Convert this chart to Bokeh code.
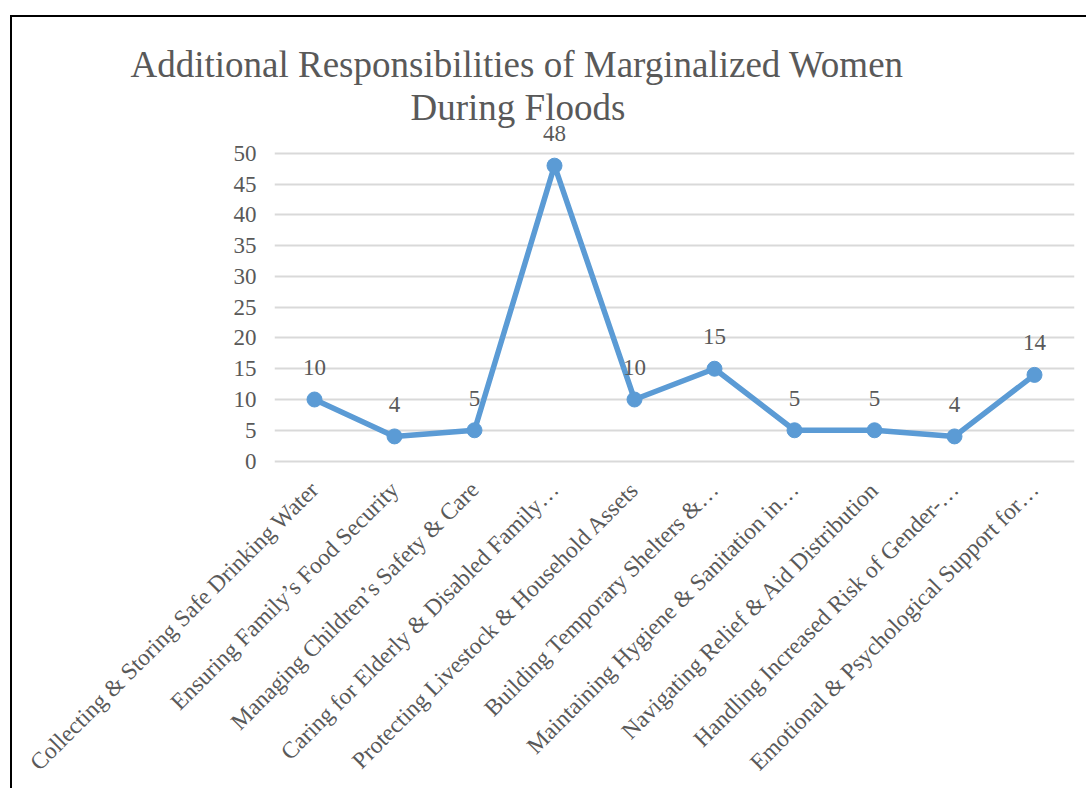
import math
from bokeh.plotting import figure
from bokeh.models import Range1d, FixedTicker, ColumnDataSource, LabelSet, Title
from bokeh.embed import file_html
from bokeh.resources import INLINE

categories = [
    "Collecting & Storing Safe Drinking Water",
    "Ensuring Family\u2019s Food Security",
    "Managing Children\u2019s Safety & Care",
    "Caring for Elderly & Disabled Family\u2026",
    "Protecting Livestock & Household Assets",
    "Building Temporary Shelters &\u2026",
    "Maintaining Hygiene & Sanitation in\u2026",
    "Navigating Relief & Aid Distribution",
    "Handling Increased Risk of Gender-\u2026",
    "Emotional & Psychological Support for\u2026",
]
values = [10, 4, 5, 48, 10, 15, 5, 5, 4, 14]
y_ticks = [0, 5, 10, 15, 20, 25, 30, 35, 40, 45, 50]
title_line1 = "Additional Responsibilities of Marginalized Women"
title_line2 = "During Floods"

FONT = "Liberation Serif"
GREY = "#595959"
BLUE = "#5B9BD5"
LBL = "23px"
CAT_LBL = "23.5px"

n = len(categories)
idx = list(range(n))
src = ColumnDataSource(dict(pos=idx, cat=categories, val=values,
                            lab=[str(v) for v in values]))

p = figure(
    x_range=Range1d(-0.5, n - 0.5),
    y_range=Range1d(-0.4, 55.5),
    width=1076, height=773,
    output_backend="svg", toolbar_location=None,
    min_border_left=262, min_border_right=14,
    min_border_top=102, min_border_bottom=327,
)
p.styles = {
    "margin-left": "10px", "margin-top": "15px",
    "border-left": "2px solid black", "border-top": "2px solid black",
}
p.outline_line_color = None
p.background_fill_color = "white"
p.border_fill_color = "white"

p.line(x="pos", y="val", source=src, line_color=BLUE, line_width=5.5, line_join="round")
p.scatter(x="pos", y="val", source=src, size=15, fill_color=BLUE, line_color=BLUE)

labels = LabelSet(x="pos", y="val", text="lab", source=src, y_offset=32,
                  text_align="center", text_baseline="middle",
                  text_font=FONT, text_font_size=LBL, text_color=GREY)
p.add_layout(labels)

p.xgrid.grid_line_color = None
p.ygrid.grid_line_color = "#D9D9D9"
p.ygrid.grid_line_width = 2

cat_axis = p.xaxis[0]
cat_axis.ticker = FixedTicker(ticks=idx)
cat_axis.major_label_overrides = {i: c for i, c in enumerate(categories)}
p.yaxis.ticker = FixedTicker(ticks=y_ticks)
for ax in (cat_axis, p.yaxis[0]):
    ax.axis_line_color = None
    ax.major_tick_line_color = None
    ax.minor_tick_line_color = None
    ax.major_tick_out = 0
    ax.minor_tick_out = 0
    ax.major_label_text_font = FONT
    ax.major_label_text_font_size = LBL
    ax.major_label_text_color = GREY
cat_axis.major_label_text_font_size = CAT_LBL
p.yaxis.major_label_standoff = 18
cat_axis.major_label_orientation = math.pi / 4
cat_axis.major_label_standoff = 22

t2 = Title(text=title_line2, align="left", offset=136, text_font=FONT,
           text_font_size="37px", text_color=GREY, text_font_style="normal", standoff=-16)
t1 = Title(text=title_line1, align="left", offset=-144, text_font=FONT,
           text_font_size="37px", text_color=GREY, text_font_style="normal", standoff=16)
p.add_layout(t2, "above")
p.add_layout(t1, "above")

open("out.html", "w").write(file_html(p, INLINE))
